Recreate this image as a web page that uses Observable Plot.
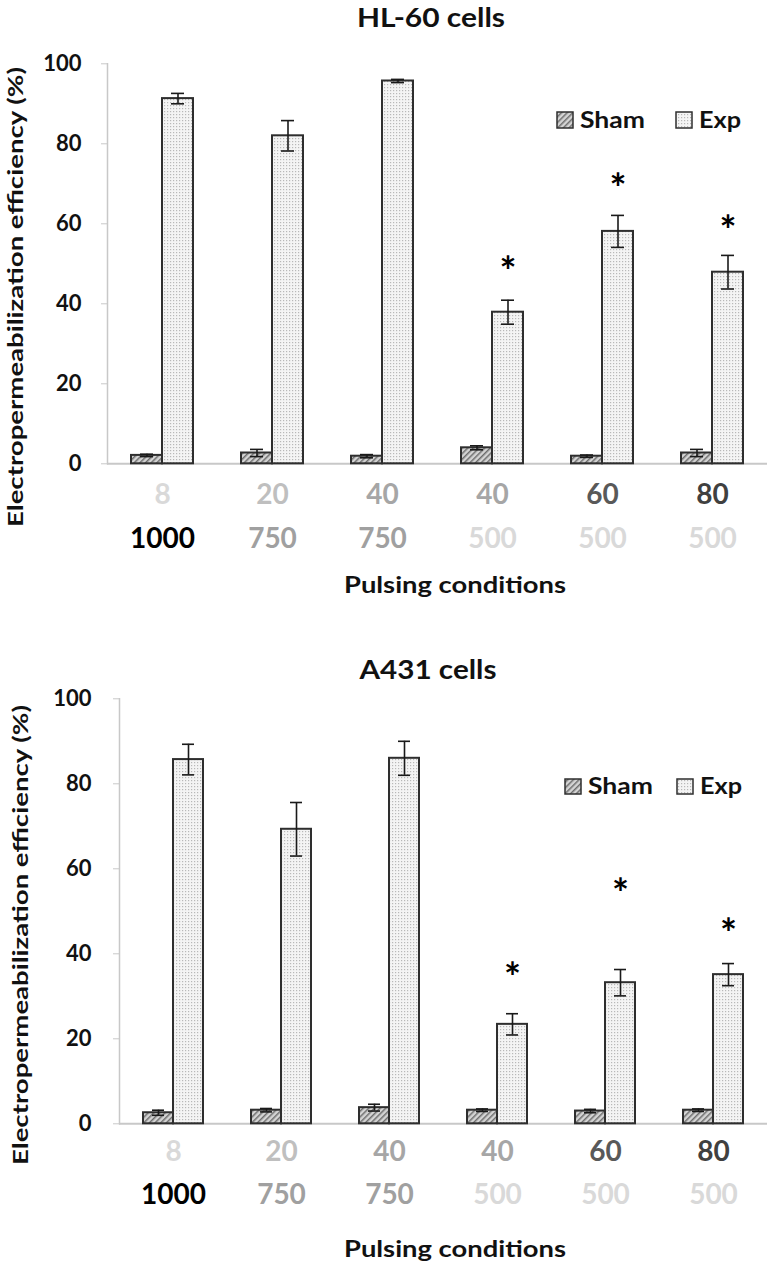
<!DOCTYPE html>
<html>
<head>
<meta charset="utf-8">
<script src="https://cdn.jsdelivr.net/npm/d3@7"></script>
<script src="https://cdn.jsdelivr.net/npm/@observablehq/plot@0.6"></script>
<style>
  html, body { margin: 0; padding: 0; background: #fff; }
  #page { position: relative; width: 768px; height: 1269px; overflow: hidden; background: #fff; }
  #top, #bottom { position: absolute; left: 0; }
  #top { top: 0; }
  #bottom { top: 630px; }
  #overlay { position: absolute; left: 0; top: 0; pointer-events: none; }
  svg text { font-family: Lato, "Open Sans", sans-serif; }
</style>
</head>
<body>
<svg width="0" height="0" style="position:absolute">
  <defs>
    <pattern id="hatch" width="4" height="4" patternUnits="userSpaceOnUse" patternTransform="rotate(45)">
      <rect width="4" height="4" fill="#d4d4d4"></rect>
      <line x1="0.75" y1="0" x2="0.75" y2="4" stroke="#6e6e6e" stroke-width="1.5"></line>
    </pattern>
    <pattern id="dots" width="3" height="3" patternUnits="userSpaceOnUse">
      <rect width="3" height="3" fill="#f4f4f4"></rect>
      <rect width="1.2" height="1.2" fill="#b8b8b8"></rect>
    </pattern>
  </defs>
</svg>
<div id="page">
  <div id="top"></div>
  <div id="bottom"></div>
  <svg id="overlay" width="768" height="1269"></svg>
</div>
<script>
// ---------- data ----------
const keys = ["c1", "c2", "c3", "c4", "c5", "c6"];
const pulseCounts = ["8", "20", "40", "40", "60", "80"];
const fieldStrengths = ["1000", "750", "750", "500", "500", "500"];
const seriesNames = ["Sham", "Exp"];
const yTicks = [0, 20, 40, 60, 80, 100];

// HL-60 cells
const hlSham    = [2.1, 2.7, 1.9, 4.0, 1.9, 2.7];
const hlShamErr = [0.3, 0.9, 0.4, 0.5, 0.3, 0.9];
const hlExp     = [91.3, 82.0, 95.7, 37.9, 58.1, 47.9];
const hlExpErr  = [1.3, 3.8, 0.4, 3.0, 4.0, 4.2];
const hlStar    = [null, null, null, 50.1, 70.8, 60.3];

// A431 cells
const aSham    = [2.6, 3.2, 3.8, 3.2, 3.0, 3.2];
const aShamErr = [0.6, 0.4, 0.8, 0.3, 0.4, 0.3];
const aExp     = [85.7, 69.3, 86.0, 23.4, 33.2, 35.1];
const aExpErr  = [3.6, 6.3, 4.0, 2.5, 3.1, 2.6];
const aStar    = [null, null, null, 36.4, 56.2, 46.7];

// label colours (style)
const countColors = ["#d9d9d9", "#bfbfbf", "#a6a6a6", "#a6a6a6", "#595959", "#404040"];
const fieldColors = ["#000000", "#a0a0a0", "#a0a0a0", "#d9d9d9", "#d9d9d9", "#d9d9d9"];

function buildRows(sham, shamErr, exp, expErr) {
  return keys.flatMap((k, i) => [
    {key: k, series: seriesNames[0], value: sham[i], err: shamErr[i]},
    {key: k, series: seriesNames[1], value: exp[i], err: expErr[i]}
  ]);
}
function buildStars(stars) {
  return keys.map((k, i) => ({key: k, series: "Exp", star: stars[i]})).filter(d => d.star != null);
}
const labelRows = keys.map((k, i) => ({key: k, count: pulseCounts[i], field: fieldStrengths[i], cc: countColors[i], fc: fieldColors[i]}));

function chart({rows, stars, height, marginTop, marginBottom, marginLeft, paddingOuter, tickPadding, row1, row2}) {
  const sham = rows.filter(d => d.series === "Sham");
  const exp = rows.filter(d => d.series === "Exp");
  return Plot.plot({
    width: 768,
    height,
    marginTop, marginBottom, marginLeft, marginRight: 0,
    style: {fontFamily: "Lato, sans-serif", fontWeight: "bold", background: "transparent", overflow: "visible"},
    fx: {domain: keys, padding: 0, axis: null},
    x: {domain: seriesNames, paddingInner: 0, paddingOuter, axis: null},
    y: {domain: [0, 100], axis: null},
    color: {type: "identity"},
    marks: [
      Plot.frame({anchor: "left", facet: "super", stroke: "#c8c8c8", strokeWidth: 1.5}),
      Plot.axisY({ticks: yTicks, tickSize: 6, tickPadding, stroke: "#c8c8c8", fill: "#111", fontSize: 22, fontWeight: "bold", label: null}),
      Plot.ruleY([0], {stroke: "#c8c8c8", strokeWidth: 2}),
      Plot.barY(sham, {fx: "key", x: "series", y: "value", fill: "url(#hatch)", stroke: "#2e2e2e", strokeWidth: 2}),
      Plot.barY(exp, {fx: "key", x: "series", y: "value", fill: "url(#dots)", stroke: "#2e2e2e", strokeWidth: 2}),
      Plot.ruleX(rows, {fx: "key", x: "series", y1: d => d.value - d.err, y2: d => d.value + d.err, stroke: "#1a1a1a", strokeWidth: 1.6}),
      Plot.tickY(rows, {fx: "key", x: "series", y: d => d.value + d.err, insetLeft: 9, insetRight: 9, stroke: "#1a1a1a", strokeWidth: 1.6}),
      Plot.tickY(rows, {fx: "key", x: "series", y: d => d.value - d.err, insetLeft: 9, insetRight: 9, stroke: "#1a1a1a", strokeWidth: 1.6}),
      Plot.text(stars, {fx: "key", x: "series", y: "star", text: () => "*", fontSize: 40, fontWeight: "bold", fill: "#000", dy: 10}),
      Plot.text(labelRows, {fx: "key", frameAnchor: "bottom", dy: row1, lineAnchor: "bottom", text: "count", fill: "cc", fontSize: 28, fontWeight: "bold"}),
      Plot.text(labelRows, {fx: "key", frameAnchor: "bottom", dy: row2, lineAnchor: "bottom", text: "field", fill: "fc", fontSize: 28, fontWeight: "bold"})
    ]
  });
}

document.getElementById("top").append(chart({
  rows: buildRows(hlSham, hlShamErr, hlExp, hlExpErr),
  stars: buildStars(hlStar),
  height: 630, marginTop: 63.3, marginBottom: 166.7, marginLeft: 105,
  paddingOuter: 0.73, tickPadding: 20, row1: 40, row2: 84
}));

document.getElementById("bottom").append(chart({
  rows: buildRows(aSham, aShamErr, aExp, aExpErr),
  stars: buildStars(aStar),
  height: 639, marginTop: 68.3, marginBottom: 145.7, marginLeft: 117,
  paddingOuter: 0.78, tickPadding: 22, row1: 37, row2: 80
}));

// ---------- titles, legends, axis titles ----------
const ov = d3.select("#overlay");
function txt(x, y, s, size, len, opts = {}) {
  const t = ov.append("text")
    .attr("x", x).attr("y", y)
    .attr("font-size", size).attr("font-weight", "bold")
    .attr("fill", "#111")
    .attr("text-anchor", opts.anchor || "middle")
    .text(s);
  if (len) t.attr("textLength", len).attr("lengthAdjust", "spacingAndGlyphs");
  if (opts.family) t.attr("font-family", opts.family);
  if (opts.rotate) t.attr("transform", `rotate(-90 ${x} ${y})`);
  return t;
}
function legend(x, y, w, h, gap) {
  ov.append("rect").attr("x", x).attr("y", y).attr("width", w).attr("height", h)
    .attr("fill", "url(#hatch)").attr("stroke", "#2e2e2e").attr("stroke-width", 1.5);
  txt(x + w + 7, y + h, seriesNames[0], 23, 65, {anchor: "start"});
  const x2 = x + gap;
  ov.append("rect").attr("x", x2).attr("y", y).attr("width", w).attr("height", h)
    .attr("fill", "url(#dots)").attr("stroke", "#2e2e2e").attr("stroke-width", 1.5);
  txt(x2 + w + 7, y + h, seriesNames[1], 23, 42, {anchor: "start"});
}

txt(431, 27, "HL-60 cells", 27, 148);
legend(557, 112, 16, 16, 119);
txt(23, 297, "Electropermeabilization efficiency (%)", 21, 460, {rotate: true, family: "DejaVu Sans"});
txt(455, 593, "Pulsing conditions", 23, 222);

txt(428, 679, "A431 cells", 27, 137);
legend(565, 779, 16, 15, 112);
txt(28, 935, "Electropermeabilization efficiency (%)", 21, 460, {rotate: true, family: "DejaVu Sans"});
txt(455, 1257, "Pulsing conditions", 23, 222);
</script>
</body>
</html>
